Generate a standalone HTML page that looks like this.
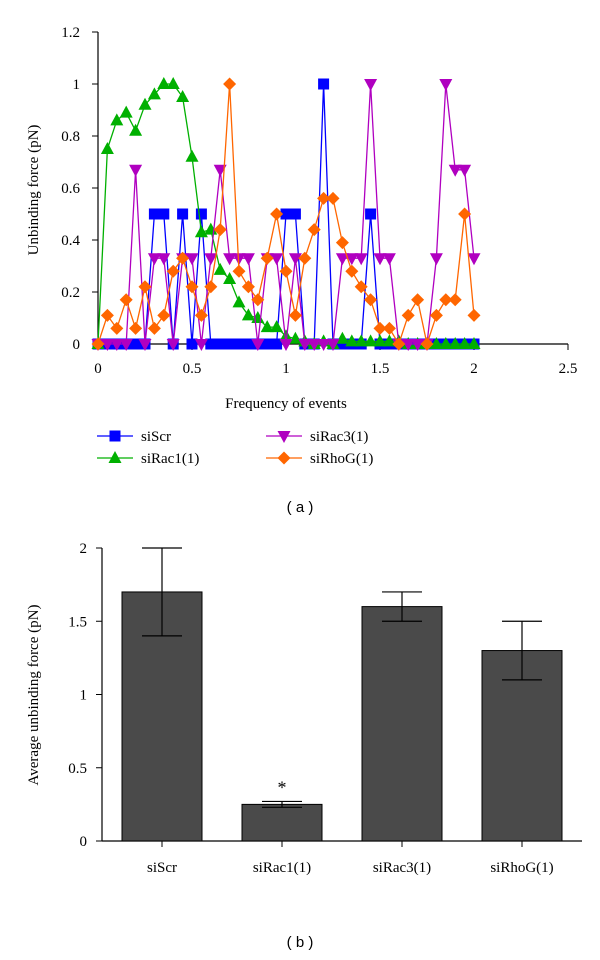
<!DOCTYPE html>
<html><head><meta charset="utf-8"><style>
body{margin:0;background:#fff;width:600px;height:960px;overflow:hidden}
svg{display:block;font-family:"Liberation Serif",serif}
</style></head><body>
<svg id="chart" width="600" height="960" viewBox="0 0 600 960">
<g id="a"></g>
<g id="b"></g>
<text x="300" y="512" text-anchor="middle" font-family="Liberation Sans, sans-serif" font-size="15">( a )</text>
<text x="300" y="947" text-anchor="middle" font-family="Liberation Sans, sans-serif" font-size="15">( b )</text>
</svg>
<script>
const seriesNames=["siScr","siRac1(1)","siRac3(1)","siRhoG(1)"];
const xStep=0.05;
const siScr=[0,0,0,0,0,0,0.5,0.5,0,0.5,0,0.5,0,0,0,0,0,0,0,0,0.5,0.5,0,0,1,0,0,0,0,0.5,0,0,0,0,0,0,0,0,0,0,0];
const siRac1=[0,0.75,0.86,0.89,0.82,0.92,0.96,1,1,0.95,0.72,0.43,0.44,0.285,0.25,0.16,0.11,0.1,0.065,0.065,0.03,0.02,0.01,0,0.01,0,0.02,0.01,0.01,0.01,0.01,0.01,0.01,0,0,0,0,0,0,0,0];
const siRac3=[0,0,0,0,0.67,0,0.33,0.33,0,0.33,0.33,0,0.33,0.67,0.33,0.33,0.33,0,0.33,0.33,0,0.33,0,0,0,0,0.33,0.33,0.33,1,0.33,0.33,0,0,0,0,0.33,1,0.67,0.67,0.33];
const siRhoG=[0,0.11,0.06,0.17,0.06,0.22,0.06,0.11,0.28,0.33,0.22,0.11,0.22,0.44,1,0.28,0.22,0.17,0.33,0.5,0.28,0.11,0.33,0.44,0.56,0.56,0.39,0.28,0.22,0.17,0.06,0.06,0,0.11,0.17,0,0.11,0.17,0.17,0.5,0.11];
const xTicksA=[0,0.5,1,1.5,2,2.5];
const yTicksA=[0,0.2,0.4,0.6,0.8,1,1.2];
const barCats=["siScr","siRac1(1)","siRac3(1)","siRhoG(1)"];
const barVals=[1.7,0.25,1.6,1.3];
const errLo=[1.4,0.23,1.5,1.1];
const errHi=[2.0,0.27,1.7,1.5];
const yTicksB=[0,0.5,1,1.5,2];

const NS="http://www.w3.org/2000/svg";
function mk(p,t,a,txt){const e=document.createElementNS(NS,t);for(const k in a)e.setAttribute(k,a[k]);if(txt!==undefined)e.textContent=txt;p.appendChild(e);return e;}
// Chart A
const A=document.getElementById('a');
const xa=v=>98+v*188, ya=v=>344-v*260;
mk(A,'line',{x1:xa(0),y1:ya(0),x2:xa(0),y2:ya(1.2),stroke:'#000','stroke-width':1.2});
mk(A,'line',{x1:xa(0),y1:ya(0),x2:xa(2.5),y2:ya(0),stroke:'#000','stroke-width':1.2});
yTicksA.forEach(t=>{mk(A,'line',{x1:xa(0)-6,y1:ya(t),x2:xa(0),y2:ya(t),stroke:'#000'});
 const e=mk(A,'text',{x:xa(0)-18,y:ya(t)+5,'text-anchor':'end','font-size':15},String(t));
 });
xTicksA.forEach(t=>{mk(A,'line',{x1:xa(t),y1:ya(0),x2:xa(t),y2:ya(0)+6,stroke:'#000'});
 const e=mk(A,'text',{x:xa(t),y:373,'text-anchor':'middle','font-size':15},String(t));
 });
let t1=mk(A,'text',{x:286,y:408,'text-anchor':'middle','font-size':15},'Frequency of events');

let t2=mk(A,'text',{x:0,y:0,'text-anchor':'middle','font-size':15,transform:'translate(38,190) rotate(-90)'},'Unbinding force (pN)');

function marker(g,type,cx,cy,color){
 if(type==='sq')return mk(g,'rect',{x:cx-5.5,y:cy-5.5,width:11,height:11,fill:color});
 if(type==='up')return mk(g,'polygon',{points:`${cx},${cy-7} ${cx-6.5},${cy+5} ${cx+6.5},${cy+5}`,fill:color});
 if(type==='dn')return mk(g,'polygon',{points:`${cx-6.5},${cy-5} ${cx+6.5},${cy-5} ${cx},${cy+7}`,fill:color});
 return mk(g,'polygon',{points:`${cx},${cy-6.5} ${cx+6.5},${cy} ${cx},${cy+6.5} ${cx-6.5},${cy}`,fill:color});
}
const defs=[[siScr,'#0000ff','sq'],[siRac1,'#00b000','up'],[siRac3,'#b000c0','dn'],[siRhoG,'#ff6600','di']];
defs.forEach((d,si)=>{
 const g=mk(A,'g',{});
 
 
 const pts=d[0].map((v,i)=>xa(i*xStep)+','+ya(v)).join(' ');
 mk(g,'polyline',{points:pts,fill:'none',stroke:d[1],'stroke-width':1.3});
 d[0].forEach((v,i)=>{const m=marker(g,d[2],xa(i*xStep),ya(v),d[1]);
  });
});
// legend
const legPos=[[97,436],[97,458],[266,436],[266,458]];
defs.forEach((d,si)=>{
 const g=mk(A,'g',{});
 
 
 const [lx,ly]=legPos[si];
 mk(g,'line',{x1:lx,y1:ly,x2:lx+36,y2:ly,stroke:d[1],'stroke-width':1.3});
 marker(g,d[2],lx+18,ly,d[1]);
 mk(g,'text',{x:lx+44,y:ly+5,'font-size':15},seriesNames[si]);
});
// Chart B
const B=document.getElementById('b');
const yb=v=>841-v*146.5, xb=i=>162+i*120;
mk(B,'line',{x1:102,y1:yb(0),x2:102,y2:yb(2),stroke:'#000','stroke-width':1.2});
mk(B,'line',{x1:102,y1:yb(0),x2:582,y2:yb(0),stroke:'#000','stroke-width':1.2});
yTicksB.forEach(t=>{mk(B,'line',{x1:96,y1:yb(t),x2:102,y2:yb(t),stroke:'#000'});
 const e=mk(B,'text',{x:87,y:yb(t)+5,'text-anchor':'end','font-size':15},String(t));
 });
let t3=mk(B,'text',{x:0,y:0,'text-anchor':'middle','font-size':15,transform:'translate(38,695) rotate(-90)'},'Average unbinding force (pN)');

barCats.forEach((c,i)=>{
 const r=mk(B,'rect',{x:xb(i)-40,y:yb(barVals[i]),width:80,height:yb(0)-yb(barVals[i]),fill:'#4a4a4a',stroke:'#000','stroke-width':1});
 
 
 const g=mk(B,'g',{stroke:'#000','stroke-width':1.2});
 
 
 mk(g,'line',{x1:xb(i),y1:yb(errLo[i]),x2:xb(i),y2:yb(errHi[i])});
 mk(g,'line',{x1:xb(i)-20,y1:yb(errLo[i]),x2:xb(i)+20,y2:yb(errLo[i])});
 mk(g,'line',{x1:xb(i)-20,y1:yb(errHi[i]),x2:xb(i)+20,y2:yb(errHi[i])});
 mk(B,'line',{x1:xb(i),y1:yb(0),x2:xb(i),y2:yb(0)+6,stroke:'#000'});
 const e=mk(B,'text',{x:xb(i),y:872,'text-anchor':'middle','font-size':15},c);
 
});
let s=mk(B,'text',{x:xb(1),y:yb(errHi[1])-8,'text-anchor':'middle','font-size':18},'*');

</script>
</body></html>
